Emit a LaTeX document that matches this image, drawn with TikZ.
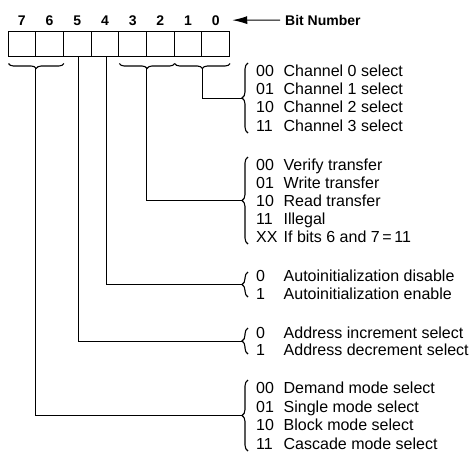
\documentclass[tikz,border=0pt]{standalone}
\usepackage{fontspec}
\setmainfont{Liberation Sans}
\usetikzlibrary{decorations.pathreplacing,arrows.meta}
\begin{document}
\begin{tikzpicture}[x=1pt,y=-1pt,
  cell/.style={draw, line width=1pt, minimum width=27.7pt, minimum height=24.3pt, inner sep=0pt},
  bitlbl/.style={font=\fontsize{14}{16}\selectfont\bfseries, inner sep=0pt, anchor=base},
  row/.style={anchor=base west, inner sep=0pt, font=\fontsize{16}{18}\selectfont},
  conn/.style={line width=0.9pt},
  brc/.style={decorate, decoration={brace, amplitude=6pt}, line width=1.1pt},
  ubrc/.style={decorate, decoration={brace, amplitude=5pt}, line width=1.1pt}]
\useasboundingbox (0,0) rectangle (471,453);
% register cells and bit numbers
\foreach \b/\cx in {7/21.85,6/49.55,5/77.25,4/104.95,3/132.65,2/160.35,1/188.05,0/215.75}{
  \node[cell] (c\b) at (\cx,43.85) {};
  \node[bitlbl] (d\b) at (\cx,25) {\b};
}
\node[bitlbl, anchor=base west] (bitnum) at (285,25) {Bit Number};
\draw[line width=1pt, -{Latex[length=15pt,width=8pt]}, shorten <=5pt, shorten >=12.4pt] (bitnum.west) -- (d0.east);
% under braces
\draw[ubrc] (c6.south east) ++(0,7) -- ++(-55.4,0);
\draw[ubrc] (c2.south east) ++(0,7) -- ++(-55.4,0);
\draw[ubrc] (c0.south east) ++(0,7) -- ++(-55.4,0);
\coordinate (t76) at (35.7,68);
\coordinate (t32) at (146.5,68);
\coordinate (t10) at (202.5,68);
% right braces
\draw[brc] (248,133) -- (248,63);
\draw[brc] (248,244) -- (248,157);
\draw[brc] (248,297) -- (248,272);
\draw[brc] (248,354) -- (248,328);
\draw[brc] (248,451) -- (248,380);
\coordinate (bch) at (242,98);
\coordinate (btr) at (242,200.5);
\coordinate (bau) at (242,284.5);
\coordinate (bad) at (242,341);
\coordinate (bmo) at (242,415.5);
% connectors
\draw[conn] (t10) |- (bch);
\draw[conn] (t32) |- (btr);
\draw[conn] ([xshift=1pt]c4.south) |- (bau);
\draw[conn] ([xshift=1pt]c5.south) |- (bad);
\draw[conn] (t76) |- (bmo);
% texts
\node[row] (ch0) at (256,76.2) {\makebox[27.5pt][l]{00}Channel 0 select};
\node[row] (ch1) at (256,94.5) {\makebox[27.5pt][l]{01}Channel 1 select};
\node[row] (ch2) at (256,112.8) {\makebox[27.5pt][l]{10}Channel 2 select};
\node[row] (ch3) at (256,131.1) {\makebox[27.5pt][l]{11}Channel 3 select};
\node[row] (tr0) at (256,170.7) {\makebox[27.5pt][l]{00}Verify transfer};
\node[row] (tr1) at (256,188.7) {\makebox[27.5pt][l]{01}Write transfer};
\node[row] (tr2) at (256,206.7) {\makebox[27.5pt][l]{10}Read transfer};
\node[row] (tr3) at (256,224.7) {\makebox[27.5pt][l]{11}Illegal};
\node[row] (tr4) at (256,242.7) {\makebox[27.5pt][l]{XX}If bits 6 and 7\,=\,11};
\node[row] (au0) at (256,281.6) {\makebox[27.5pt][l]{0}Autoinitialization disable};
\node[row] (au1) at (256,299.1) {\makebox[27.5pt][l]{1}Autoinitialization enable};
\node[row] (ad0) at (256,338) {\makebox[27.5pt][l]{0}Address increment select};
\node[row] (ad1) at (256,355.5) {\makebox[27.5pt][l]{1}Address decrement select};
\node[row] (mo0) at (256,393.7) {\makebox[27.5pt][l]{00}Demand mode select};
\node[row] (mo1) at (256,412.2) {\makebox[27.5pt][l]{01}Single mode select};
\node[row] (mo2) at (256,430.7) {\makebox[27.5pt][l]{10}Block mode select};
\node[row] (mo3) at (256,449.2) {\makebox[27.5pt][l]{11}Cascade mode select};
\end{tikzpicture}
\end{document}
